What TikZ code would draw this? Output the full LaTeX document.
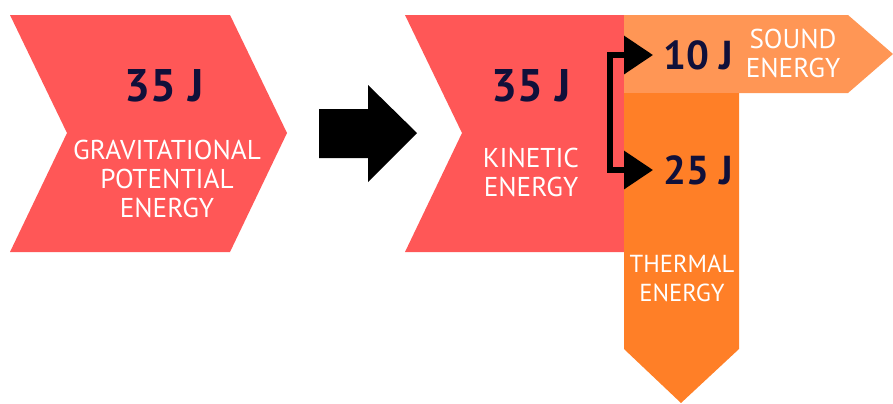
\documentclass[tikz,border=0pt]{standalone}
\usepackage{fontspec}
\setmainfont{PT Sans}
\usetikzlibrary{arrows.meta}
\definecolor{chevred}{HTML}{FF5757}
\definecolor{soundorange}{HTML}{FF9655}
\definecolor{heatorange}{HTML}{FF7F27}
\definecolor{inkblue}{HTML}{10103A}

\begin{document}
\begin{tikzpicture}[x=0.02cm, y=-0.02cm,
    amount/.style={text=inkblue, font=\bfseries\fontsize{26}{26}\selectfont, inner sep=0pt},
    small amount/.style={amount, font=\bfseries\fontsize{23}{23}\selectfont, inner xsep=5.6pt},
    etype/.style={text=white, align=center, font=\fontsize{15.5}{16.5}\selectfont},
    flow/.style={{Triangle[length=16.4pt,width=21pt]}-{Triangle[length=16.4pt,width=21pt]},
      line width=3.4pt, line join=miter}]
\useasboundingbox (0,0) rectangle (893,403);
% energy stores
\fill[chevred] (10,15) -- (230,15) -- (287,133) -- (230,252) -- (10,252) -- (67,133) -- cycle;
\fill (319,109) -- (368,109) -- (368,85) -- (417,133) -- (368,182) -- (368,158) -- (319,158) -- cycle;
\fill[chevred] (405,15) -- (624,15) -- (624,252) -- (405,252) -- (462,133) -- cycle;
\fill[soundorange] (624,15) -- (848,15) -- (893,54) -- (848,93) -- (624,93) -- cycle;
\fill[heatorange] (624,93) -- (739,93) -- (739,349) -- (681,403) -- (624,349) -- cycle;
% amounts and names
\node[amount] (gpeval) at (164,86) {35 J};
\node[etype] (gpe) at (167,179) {GRAVITATIONAL\\POTENTIAL\\ENERGY};
\node[amount] (keval) at (531,86) {35 J};
\node[etype] (ke) at (531,172) {KINETIC\\ENERGY};
\node[small amount] (sval) at (698,55) {10 J};
\node[etype] (se) at (793,53) {SOUND\\ENERGY};
\node[small amount] (tval) at (698,170) {25 J};
\node[etype, font=\fontsize{14}{16.5}\selectfont] (te) at (682,278) {THERMAL\\ENERGY};
% split of the kinetic store
\coordinate (split) at (610,110);
\draw[flow] (sval.west) -| (split) |- (tval.west);
\end{tikzpicture}
\end{document}
